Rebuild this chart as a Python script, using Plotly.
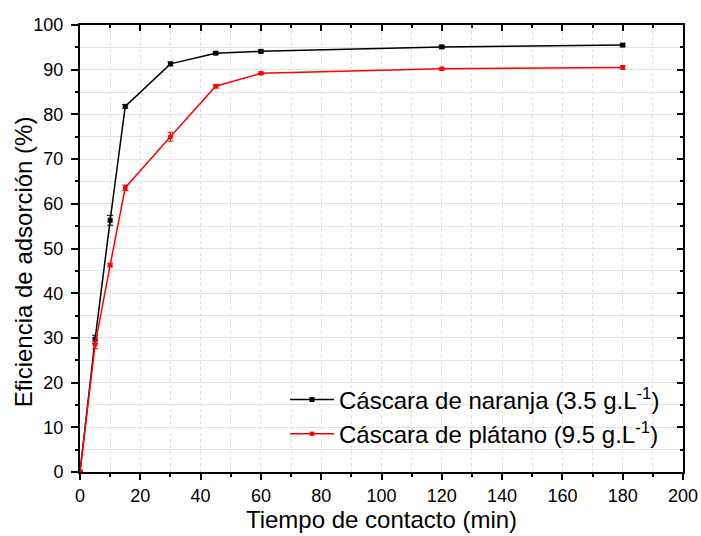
import plotly.graph_objects as go

# Contact time (min)
tiempo = [0, 5, 10, 15, 30, 45, 60, 120, 180]

# Adsorption efficiency (%) and standard deviations
naranja = [0, 29.7, 56.3, 81.8, 91.3, 93.7, 94.1, 95.1, 95.5]
naranja_err = [0, 0.9, 1.1, 0.4, 0.4, 0.3, 0.3, 0.3, 0.3]
platano = [0, 28.5, 46.3, 63.6, 75.0, 86.3, 89.2, 90.2, 90.5]
platano_err = [0, 0.9, 0.4, 0.6, 1.0, 0.4, 0.3, 0.3, 0.4]

x_ticks = list(range(0, 201, 20))
y_ticks = list(range(0, 101, 10))

FONT = "Liberation Sans, Arial, sans-serif"

fig = go.Figure()
fig.add_trace(go.Scatter(
    x=tiempo, y=naranja, mode="lines+markers",
    name="Cáscara de naranja (3.5 g.L<sup>-1</sup>)",
    legendgroup="a",
    line=dict(color="black", width=1.5),
    marker=dict(symbol="square", size=5, color="black"),
    error_y=dict(type="data", array=naranja_err, visible=True,
                 color="black", thickness=1, width=3),
))
fig.add_trace(go.Scatter(
    x=tiempo, y=platano, mode="lines+markers",
    name="Cáscara de plátano (9.5 g.L<sup>-1</sup>)",
    legendgroup="b",
    line=dict(color="red", width=1.5),
    marker=dict(symbol="circle", size=5, color="red"),
    error_y=dict(type="data", array=platano_err, visible=True,
                 color="red", thickness=1, width=3),
))
# invisible trace that carries the top/right frame axes
fig.add_trace(go.Scatter(x=[None], y=[None], xaxis="x2", yaxis="y2",
                         showlegend=False, hoverinfo="skip"))

axis_line = dict(showline=True, linecolor="black", linewidth=2)

fig.update_layout(
    width=701, height=536,
    margin=dict(l=80, r=18, t=25, b=64),
    paper_bgcolor="white", plot_bgcolor="white",
    font=dict(family=FONT, color="black"),
    showlegend=True,
    legend=dict(x=0.34, y=0.035, xanchor="left", yanchor="bottom",
                bgcolor="rgba(0,0,0,0)", font=dict(size=24, family=FONT),
                itemwidth=44, tracegroupgap=0),
    xaxis=dict(
        range=[0, 200], tickvals=x_ticks, ticktext=[str(v) for v in x_ticks],
        ticks="outside", ticklen=6, tickwidth=1.5, tickcolor="black",
        tickfont=dict(size=18, family=FONT), automargin=False,
        title=dict(text="Tiempo de contacto (min)", font=dict(size=24, family=FONT), standoff=4),
        showgrid=True, gridcolor="#dcdcdc", griddash="dot", gridwidth=1,
        minor=dict(dtick=10, tick0=0, ticks="outside", ticklen=3, tickcolor="black",
                   showgrid=True, gridcolor="#dcdcdc", griddash="dot", gridwidth=1),
        zeroline=False, **axis_line,
    ),
    yaxis=dict(
        range=[0, 100], tickvals=y_ticks, ticktext=[str(v) for v in y_ticks],
        ticks="outside", ticklen=7, tickwidth=1.5, tickcolor="black",
        tickfont=dict(size=18, family=FONT), automargin=False,
        ticklabelstandoff=4,
        showgrid=True, gridcolor="#e4e4e4", gridwidth=1,
        minor=dict(dtick=5, tick0=0, ticks="outside", ticklen=3, tickcolor="black",
                   showgrid=True, gridcolor="#e4e4e4", gridwidth=1),
        zeroline=False, **axis_line,
    ),
    xaxis2=dict(
        overlaying="x", side="top", range=[0, 200], dtick=20, tick0=0,
        ticks="inside", ticklen=6, tickwidth=1.5, tickcolor="black",
        showticklabels=False, showgrid=False, zeroline=False, automargin=False,
        minor=dict(dtick=10, tick0=0, ticks="inside", ticklen=3, tickcolor="black"),
        **axis_line,
    ),
    yaxis2=dict(
        overlaying="y", side="right", range=[0, 100], dtick=10, tick0=0,
        ticks="inside", ticklen=6, tickwidth=1.5, tickcolor="black",
        showticklabels=False, showgrid=False, zeroline=False, automargin=False,
        minor=dict(dtick=5, tick0=0, ticks="inside", ticklen=3, tickcolor="black"),
        **axis_line,
    ),
    annotations=[dict(
        text="Eficiencia de adsorción (%)", textangle=-90,
        xref="paper", yref="paper", x=0, y=0.469,
        xanchor="center", yanchor="middle", xshift=-57, showarrow=False,
        font=dict(size=24, family=FONT, color="black"),
    )],
)

fig.write_html("out.html")
